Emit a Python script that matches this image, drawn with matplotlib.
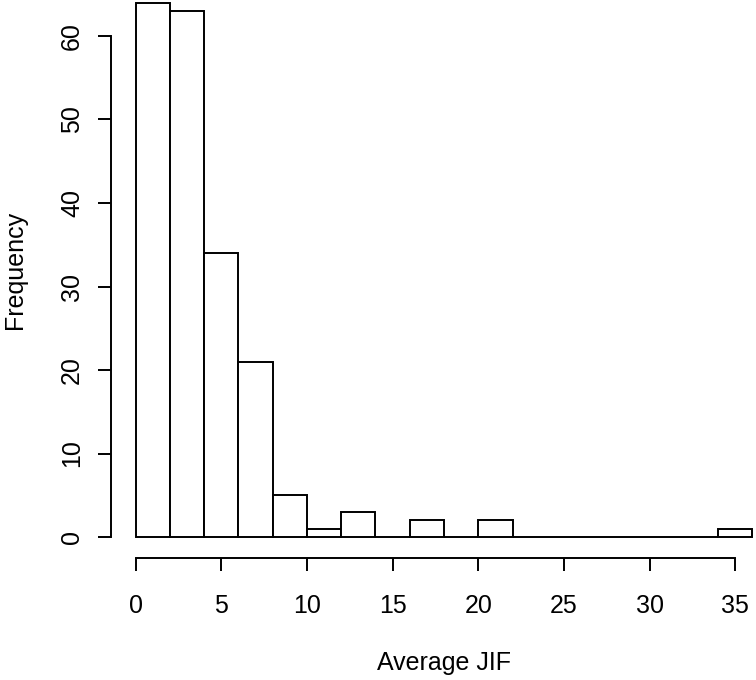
import matplotlib.pyplot as plt
import numpy as np

plt.rcParams['font.family'] = ['Liberation Sans', 'DejaVu Sans']

# histogram of average JIF, bins of width 2
bin_edges = np.arange(0, 38, 2)
counts = [64, 63, 34, 21, 5, 1, 3, 0, 2, 0, 2, 0, 0, 0, 0, 0, 0, 1]
x_ticks = [0, 5, 10, 15, 20, 25, 30, 35]
y_ticks = [0, 10, 20, 30, 40, 50, 60]

fig = plt.figure(figsize=(7.56, 6.8), dpi=100)
# R-style plot region (extends past the right/top edge of the picture)
ax = fig.add_axes([111 / 756, 1 - 558.4 / 680, 666 / 756, 577.2 / 680])

ax.bar(bin_edges[:-1], counts, width=2, align='edge',
       facecolor='white', edgecolor='black', linewidth=1.4)

ax.set_xlim(-1.44, 37.44)
ax.set_ylim(-2.56, 66.56)

for side in ['top', 'right']:
    ax.spines[side].set_visible(False)
ax.spines['left'].set_bounds(0, 60)
ax.spines['bottom'].set_bounds(0, 35)
ax.spines['left'].set_linewidth(1.4)
ax.spines['bottom'].set_linewidth(1.4)

ax.set_xticks(x_ticks)
ax.set_yticks(y_ticks)
ax.tick_params(direction='out', length=9.4, width=1.4, labelsize=18)
ax.tick_params(axis='x', pad=16)
ax.tick_params(axis='y', pad=10)
for lab in ax.get_yticklabels():
    lab.set_rotation(90)
    lab.set_va('center')

ax.set_xlabel('Average JIF', fontsize=18, labelpad=24)
ax.set_ylabel('Frequency', fontsize=18, labelpad=24)

fig.savefig('out.png', dpi=100)
